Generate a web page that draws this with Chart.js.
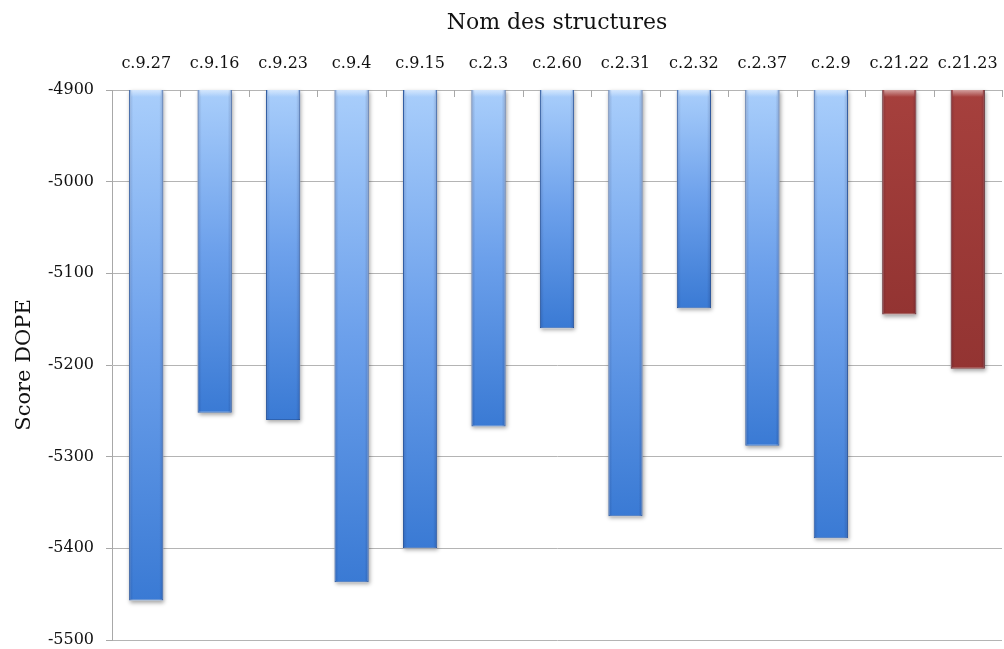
<!DOCTYPE html>
<html>
<head>
<meta charset="utf-8">
<script src="https://cdn.jsdelivr.net/npm/chart.js@4/dist/chart.umd.min.js"></script>
<style>
  html, body { margin: 0; padding: 0; background: #ffffff; }
  #wrap { width: 1004px; height: 649px; position: relative; }
</style>
</head>
<body>
<div id="wrap"><canvas id="c" width="1004" height="649"></canvas></div>
<script>
// Structures and their DOPE scores
const structures = ['c.9.27', 'c.9.16', 'c.9.23', 'c.9.4', 'c.9.15', 'c.2.3', 'c.2.60',
                    'c.2.31', 'c.2.32', 'c.2.37', 'c.2.9', 'c.21.22', 'c.21.23'];
const dopeScores = [-5457, -5252, -5260, -5437, -5400, -5267, -5160,
                    -5365, -5138, -5288, -5389, -5145, -5204];
// Group of each structure: 'b' = blue family, 'r' = red family
const groups = ['b', 'b', 'b', 'b', 'b', 'b', 'b', 'b', 'b', 'b', 'b', 'r', 'r'];
const yTicks = [-4900, -5000, -5100, -5200, -5300, -5400, -5500];

const FONT = "'DejaVu Serif', 'Liberation Serif', serif";

function barFill(ctx) {
  const chart = ctx.chart;
  const area = chart.chartArea;
  const grp = groups[ctx.dataIndex];
  if (!area) return grp === 'r' ? '#9b3a38' : '#6fa3ec';
  const bottom = chart.scales.y.getPixelForValue(ctx.raw);
  const g = chart.ctx.createLinearGradient(0, area.top, 0, Math.max(bottom, area.top + 1));
  if (grp === 'r') {
    g.addColorStop(0, '#a6403d');
    g.addColorStop(1, '#933432');
  } else {
    g.addColorStop(0, '#a9cefb');
    g.addColorStop(0.5, '#6ca0eb');
    g.addColorStop(1, '#3a7ad4');
  }
  return g;
}

function barBox(bar, area) {
  const left = bar.x - bar.width / 2;
  const top = Math.max(area.top, Math.min(bar.y, bar.base));
  const bottom = Math.min(area.bottom, Math.max(bar.y, bar.base));
  return { left, top, w: bar.width, h: bottom - top };
}

// Soft shadow under the bars, side shading, and short downward ticks on the top axis
const decorations = {
  id: 'decorations',
  beforeDatasetsDraw(chart) {
    const c = chart.ctx;
    const area = chart.chartArea;
    c.save();
    c.shadowColor = 'rgba(0,0,0,0.35)';
    c.shadowBlur = 4;
    c.shadowOffsetX = 1;
    c.shadowOffsetY = 2;
    c.fillStyle = '#ffffff';
    chart.getDatasetMeta(0).data.forEach((bar) => {
      const b = barBox(bar, area);
      c.fillRect(b.left, b.top, b.w, b.h);
    });
    c.restore();
  },
  afterDatasetsDraw(chart) {
    const c = chart.ctx;
    const x = chart.scales.x;
    const area = chart.chartArea;
    c.save();
    chart.getDatasetMeta(0).data.forEach((bar) => {
      const b = barBox(bar, area);
      const hg = c.createLinearGradient(b.left, 0, b.left + b.w, 0);
      hg.addColorStop(0, 'rgba(0,0,40,0.16)');
      hg.addColorStop(0.12, 'rgba(0,0,40,0.0)');
      hg.addColorStop(0.88, 'rgba(0,0,40,0.0)');
      hg.addColorStop(1, 'rgba(0,0,40,0.18)');
      c.fillStyle = hg;
      c.fillRect(b.left, b.top, b.w, b.h);
      const tg = c.createLinearGradient(0, b.top, 0, b.top + 7);
      tg.addColorStop(0, 'rgba(255,255,255,0.5)');
      tg.addColorStop(1, 'rgba(255,255,255,0)');
      c.fillStyle = tg;
      c.fillRect(b.left + 2, b.top, b.w - 4, 7);
    });
    c.strokeStyle = '#a8a8a8';
    c.lineWidth = 1;
    const n = structures.length;
    const step = (x.right - x.left) / n;
    for (let i = 1; i <= n; i++) {
      const px = Math.round(x.left + i * step) + 0.5;
      c.beginPath();
      c.moveTo(px, area.top);
      c.lineTo(px, area.top + 7);
      c.stroke();
    }
    c.restore();
  }
};

new Chart(document.getElementById('c'), {
  type: 'bar',
  data: {
    labels: structures,
    datasets: [{
      data: dopeScores,
      backgroundColor: barFill,
      borderColor: (ctx) => groups[ctx.dataIndex] === 'r' ? '#6e2624' : '#2f63b0',
      borderWidth: 1,
      borderSkipped: false,
      barPercentage: 0.5,
      categoryPercentage: 1.0
    }]
  },
  options: {
    responsive: false,
    animation: false,
    devicePixelRatio: 1,
    layout: { padding: { top: 0, right: 2, bottom: 9, left: 0 } },
    plugins: {
      legend: { display: false },
      tooltip: { enabled: false }
    },
    scales: {
      x: {
        position: 'top',
        offset: true,
        grid: { display: false, drawTicks: false },
        border: { display: false },
        ticks: {
          color: '#111111',
          font: { family: FONT, size: 16 },
          padding: 17,
          maxRotation: 0,
          autoSkip: false
        },
        title: {
          display: true,
          text: 'Nom des structures',
          color: '#111111',
          font: { family: FONT, size: 22 },
          padding: { top: 10, bottom: 0 }
        },
        afterFit(scale) {
          scale.height = 90;
          scale.paddingLeft = 0;
          scale.paddingRight = 0;
        }
      },
      y: {
        min: -5500,
        max: -4900,
        afterBuildTicks(scale) { scale.ticks = yTicks.map(v => ({ value: v })); },
        grid: {
          color: '#b4b4b4',
          lineWidth: 1,
          drawTicks: true,
          tickLength: 6,
          tickColor: '#a8a8a8'
        },
        border: { display: true, color: '#a8a8a8', width: 1 },
        ticks: {
          color: '#111111',
          font: { family: FONT, size: 16 },
          padding: 12,
          callback: (v) => String(v)
        },
        title: {
          display: true,
          text: 'Score DOPE',
          color: '#111111',
          font: { family: FONT, size: 21 },
          padding: { top: 12, bottom: 0 }
        },
        afterFit(scale) {
          scale.width = 112;
          scale.paddingTop = 0;
          scale.paddingBottom = 0;
        }
      }
    }
  },
  plugins: [decorations]
});
</script>
</body>
</html>
